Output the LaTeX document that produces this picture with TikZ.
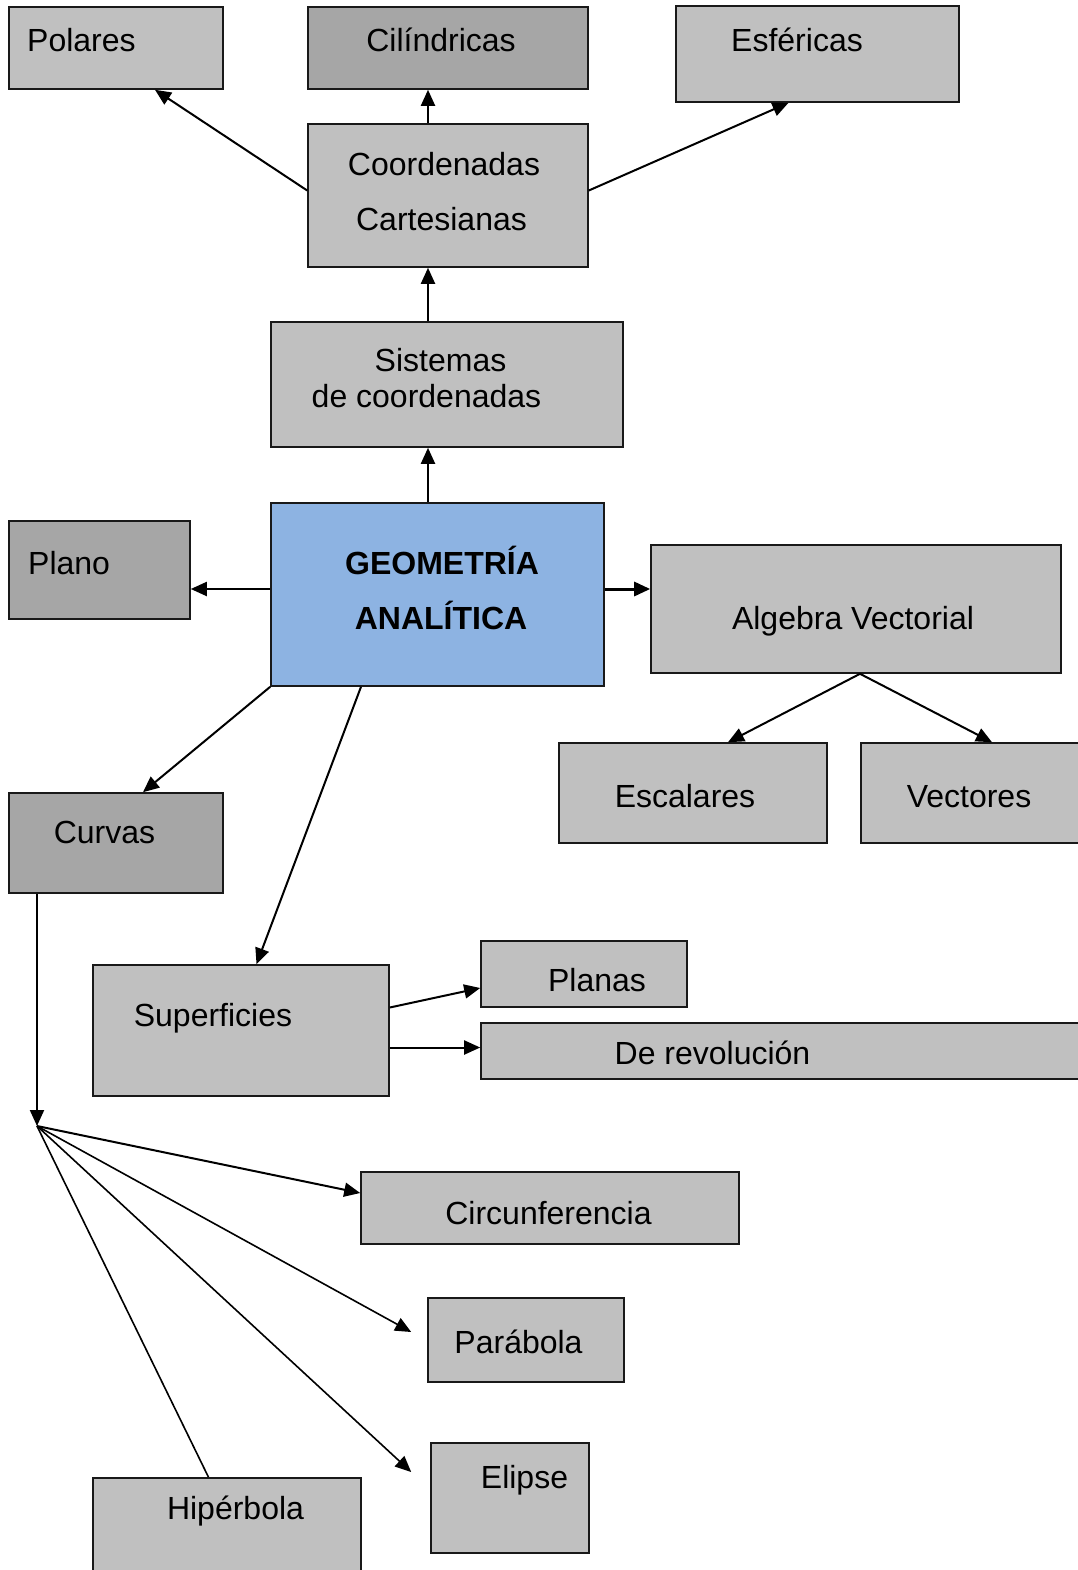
\documentclass[tikz,border=0pt]{standalone}
\usepackage{fontspec}
\setmainfont{Liberation Sans}
\usetikzlibrary{arrows.meta}
\definecolor{boxlight}{HTML}{C0C0C0}
\definecolor{boxdark}{HTML}{A6A6A6}
\definecolor{boxblue}{HTML}{8DB3E2}
\begin{document}
\begin{tikzpicture}[x=1pt,y=-1pt,
  box/.style={draw=black!90, line width=1.6pt, rectangle, inner sep=0pt},
  light/.style={box, fill=boxlight},
  darkbox/.style={box, fill=boxdark},
  bluebox/.style={box, fill=boxblue},
  lbl/.style={font=\fontsize{32}{38}\selectfont, anchor=base, inner sep=0pt},
  lblw/.style={lbl, anchor=base west},
  conn/.style={line width=2pt, -{Triangle[length=16pt,width=14pt]}},
  fan/.style={line width=1.6pt, -{Triangle[length=16pt,width=14pt]}},
  plain/.style={line width=1.6pt}
]
\useasboundingbox (0,0) rectangle (1077,1570);
\fill[white] (0,0) rectangle (1077,1570);

% boxes
\node[light,    minimum width=214, minimum height=82]  (polares) at (116,48)    {};
\node[darkbox,  minimum width=280, minimum height=82]  (cil)     at (448,48)    {};
\node[light,    minimum width=283, minimum height=96]  (esf)     at (817.5,54)  {};
\node[light,    minimum width=280, minimum height=143] (cart)    at (448,195.5) {};
\node[light,    minimum width=352, minimum height=125] (sist)    at (447,384.5) {};
\node[bluebox,  minimum width=333, minimum height=183] (geo)     at (437.5,594.5) {};
\node[darkbox,  minimum width=181, minimum height=98]  (plano)   at (99.5,570)  {};
\node[light,    minimum width=410, minimum height=128] (alg)     at (856,609)   {};
\node[light,    minimum width=268, minimum height=100] (esc)     at (693,793)   {};
\node[light,    minimum width=221, minimum height=100] (vec)     at (971.5,793) {};
\node[darkbox,  minimum width=214, minimum height=100] (curvas)  at (116,843)   {};
\node[light,    minimum width=296, minimum height=131] (sup)     at (241,1030.5) {};
\node[light,    minimum width=206, minimum height=66]  (planas)  at (584,974)   {};
\node[light,    minimum width=601, minimum height=56]  (rev)     at (781.5,1051) {};
\node[light,    minimum width=378, minimum height=72]  (circ)    at (550,1208)  {};
\node[light,    minimum width=196, minimum height=84]  (parab)   at (526,1340)  {};
\node[light,    minimum width=158, minimum height=110] (elipse)  at (510,1498)  {};
\node[light,    minimum width=268, minimum height=102] (hip)     at (227,1529)  {};

% labels
\node[lblw] (t-polares) at (27,52)     {Polares};
\node[lbl]  (t-cil)     at (441,52)    {Cilíndricas};
\node[lbl]  (t-esf)     at (797,52)    {Esféricas};
\node[lbl]  (t-cart1)   at (444,176)   {Coordenadas};
\node[lbl]  (t-cart2)   at (441.5,231) {Cartesianas};
\node[lbl]  (t-sist1)   at (440.5,371) {Sistemas};
\node[lbl]  (t-sist2)   at (426.5,407) {de coordenadas};
\node[lbl, font=\fontsize{32}{38}\selectfont\bfseries] (t-geo1) at (442,574) {GEOMETRÍA};
\node[lbl, font=\fontsize{32}{38}\selectfont\bfseries] (t-geo2) at (441,629) {ANALÍTICA};
\node[lblw] (t-plano)   at (28,574)    {Plano};
\node[lbl]  (t-alg)     at (853,629)   {Algebra Vectorial};
\node[lbl]  (t-esc)     at (685,807)   {Escalares};
\node[lbl]  (t-vec)     at (969,807)   {Vectores};
\node[lbl]  (t-curvas)  at (104.5,843) {Curvas};
\node[lbl]  (t-sup)     at (213,1026.5) {Superficies};
\node[lbl]  (t-planas)  at (597,991)   {Planas};
\node[lbl]  (t-rev)     at (712.5,1064) {De revolución};
\node[lbl]  (t-circ)    at (548.5,1224) {Circunferencia};
\node[lbl]  (t-parab)   at (518.5,1353) {Parábola};
\node[lbl]  (t-elipse)  at (524.5,1488) {Elipse};
\node[lbl]  (t-hip)     at (235.5,1519) {Hipérbola};

% branching point below Curvas
\coordinate (split) at (37,1126);

% connectors
\draw[conn] ([xshift=-20]cart.north) -- ([xshift=-20]cil.south);
\draw[conn] ([yshift=5]cart.west) -- ([xshift=39]polares.south);
\draw[conn] ([yshift=5]cart.east) -- ([xshift=-29]esf.south);
\draw[conn] ([xshift=-19]sist.north) -- ([xshift=-20]cart.south);
\draw[conn] ([xshift=-9.5]geo.north) -- ([xshift=-19]sist.south);
\draw[conn] ([yshift=5.5]geo.west) -- ([yshift=5.5]geo.west -| plano.east);
\draw[conn, line width=3pt] ([yshift=5.5]geo.east) -- ([yshift=5.5]geo.east -| alg.west);
\draw[conn] ([xshift=4]alg.south) -- ([xshift=35]esc.north);
\draw[conn] ([xshift=4]alg.south) -- ([xshift=20.5]vec.north);
\draw[conn] (geo.south west) -- ([xshift=27]curvas.north);
\draw[conn] ([xshift=-76.5]geo.south) -- ([xshift=15.5]sup.north);
\draw[conn] ([yshift=23]sup.east) -- ([yshift=-14]planas.west);
\draw[conn] ([yshift=-17]sup.east) -- ([yshift=-17]sup.east -| rev.west);
\draw[conn] ([xshift=-79]curvas.south) -- (split);
\draw[conn] (split) -- ([yshift=15]circ.west);
\draw[fan] (split) -- ([xshift=-16,yshift=8]parab.west);
\draw[fan] (split) -- ([xshift=-19,yshift=26]elipse.west);
\draw[plain] (split) -- ([xshift=-18.5]hip.north);
\end{tikzpicture}
\end{document}
